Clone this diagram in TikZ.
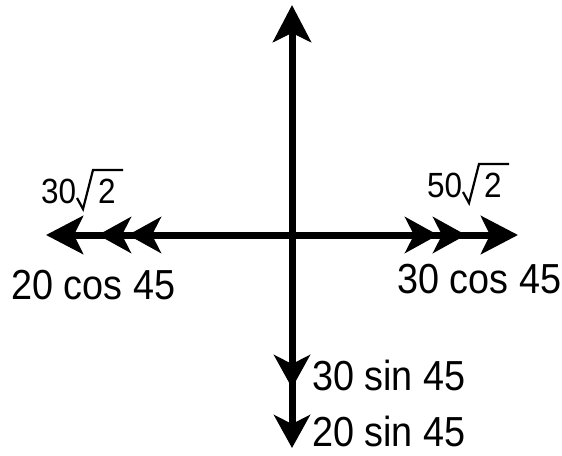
\documentclass[tikz,border=0pt]{standalone}
\usepackage{fontspec}
\setmainfont{Liberation Sans}[FakeStretch=0.9]
\usetikzlibrary{arrows.meta}
\tikzset{
  axis/.style={line width=7pt, draw=black},
  bighead/.style={-{Stealth[length=37pt,width=38pt,inset=9pt]}},
  smallhead/.style={-{Stealth[length=33pt,width=36pt,inset=9pt]}},
  biglabel/.style={inner sep=0pt, anchor=base west, font=\fontsize{42}{50}\selectfont},
  rootlabel/.style={inner sep=0pt, anchor=base west, font=\fontsize{35}{42}\selectfont},
  radical/.style={line width=2.2pt, line join=miter, line cap=butt},
}
\begin{document}
\begin{tikzpicture}[x=1pt,y=1pt]
\useasboundingbox (0,0) rectangle (562,-455);
\coordinate (O) at (292,-235);
\coordinate (top) at (292,-5);
\coordinate (L1) at (46,-235);
\coordinate (L2) at (98,-235);
\coordinate (L3) at (128,-235);
\coordinate (R1) at (438,-235);
\coordinate (R2) at (466,-235);
\coordinate (R3) at (518,-235);
\coordinate (D1) at (292,-388);
\coordinate (D2) at (292,-448);
\draw[axis,bighead] (O) -- (top);
\draw[axis,bighead] (O) -- (L1);
\draw[axis,smallhead] (O) -- (L2);
\draw[axis,smallhead] (O) -- (L3);
\draw[axis,smallhead] (O) -- (R1);
\draw[axis,smallhead] (O) -- (R2);
\draw[axis,bighead] (O) -- (R3);
\draw[axis,smallhead] (O) -- (D1);
\draw[axis,smallhead] (O) -- (D2);
\node[biglabel] (l20cos) at (11,-299) {20 cos 45};
\node[biglabel] (l30cos) at (397,-293) {30 cos 45};
\node[biglabel] (l30sin) at (312,-390) {30 sin 45};
\node[biglabel] (l20sin) at (312,-446) {20 sin 45};
% 30 sqrt 2
\node[rootlabel] (l30) at (41,-203) {30};
\node[rootlabel] (l30two) at (98,-203) {2};
\draw[radical] ([shift={(36,5)}]l30.base west) -- ([shift={(42,-6)}]l30.base west)
  -- ([shift={(52,33)}]l30.base west) -- ([shift={(82,33)}]l30.base west);
% 50 sqrt 2
\node[rootlabel] (l50) at (427,-197) {50};
\node[rootlabel] (l50two) at (484,-197) {2};
\draw[radical] ([shift={(36,5)}]l50.base west) -- ([shift={(42,-6)}]l50.base west)
  -- ([shift={(52,33)}]l50.base west) -- ([shift={(82,33)}]l50.base west);
\end{tikzpicture}
\end{document}
